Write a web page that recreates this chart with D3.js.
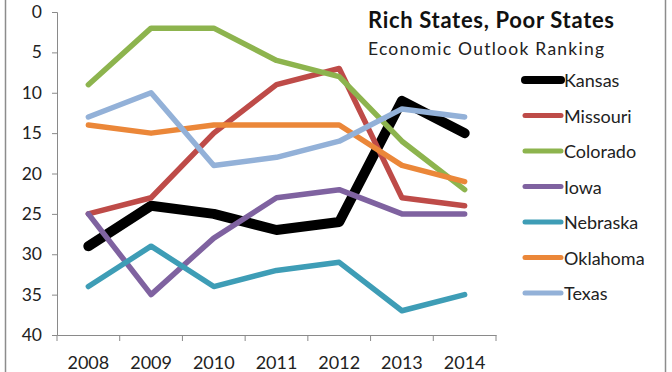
<!DOCTYPE html>
<html>
<head>
<meta charset="utf-8">
<script src="https://cdn.jsdelivr.net/npm/d3@7"></script>
<style>
  html, body { margin: 0; padding: 0; background: #fff; }
  svg { display: block; }
</style>
</head>
<body>
<svg id="chart" width="672" height="372"></svg>
<script>
// ---- data ----
var years = ["2008", "2009", "2010", "2011", "2012", "2013", "2014"];
var states = ["Kansas", "Missouri", "Colorado", "Iowa", "Nebraska", "Oklahoma", "Texas"];
var kansas   = [29, 24, 25, 27, 26, 11, 15];
var missouri = [25, 23, 15,  9,  7, 23, 24];
var colorado = [ 9,  2,  2,  6,  8, 16, 22];
var iowa     = [25, 35, 28, 23, 22, 25, 25];
var nebraska = [34, 29, 34, 32, 31, 37, 35];
var oklahoma = [14, 15, 14, 14, 14, 19, 21];
var texas    = [13, 10, 19, 18, 16, 12, 13];
var yTicks = [0, 5, 10, 15, 20, 25, 30, 35, 40];

var values = [kansas, missouri, colorado, iowa, nebraska, oklahoma, texas];
var colors = ["#000000", "#BE4B48", "#8DB44E", "#7F62A0", "#3E9DB6", "#EB8739", "#93B1D8"];
var widths = [10, 5.5, 5.5, 5.5, 5.5, 5.5, 5.5];

var font = "Lato, 'Liberation Sans', sans-serif";
var svg = d3.select("#chart");

// chart frame (only left/right edges show in the reference)
svg.append("line").attr("x1", 5.5).attr("x2", 5.5).attr("y1", 0).attr("y2", 372)
    .attr("stroke", "#8c8c8c").attr("stroke-width", 1.5);
svg.append("line").attr("x1", 665.5).attr("x2", 665.5).attr("y1", 0).attr("y2", 372)
    .attr("stroke", "#8c8c8c").attr("stroke-width", 1.5);

var plotLeft = 57, plotRight = 496, plotTop = 12, plotBottom = 335;

var x = d3.scaleBand().domain(years).range([plotLeft, plotRight]);
var y = d3.scaleLinear().domain([0, 40]).range([plotTop, plotBottom]);

// ---- axes ----
var yAxis = d3.axisLeft(y).tickValues(yTicks).tickSize(5).tickPadding(10);
var gy = svg.append("g").attr("transform", "translate(" + plotLeft + ",0)").call(yAxis);
gy.select(".domain").attr("stroke", "#8a8a8a");
gy.selectAll(".tick line").attr("stroke", "#8a8a8a");
gy.selectAll(".tick text").attr("font-family", font).attr("font-size", 17.5).attr("fill", "#222");

var xAxis = d3.axisBottom(x).tickSize(0).tickPadding(18);
var gx = svg.append("g").attr("transform", "translate(0," + plotBottom + ")").call(xAxis);
gx.select(".domain").attr("stroke", "#8a8a8a");
gx.selectAll(".tick text").attr("font-family", font).attr("font-size", 18).attr("fill", "#222")
    .attr("dy", "0.9em");
// tick marks sit on the category boundaries
gx.selectAll(".bound").data(d3.range(years.length + 1)).enter().append("line")
    .attr("class", "bound")
    .attr("x1", function(i) { return plotLeft + i * x.step(); })
    .attr("x2", function(i) { return plotLeft + i * x.step(); })
    .attr("y1", 0).attr("y2", 6)
    .attr("stroke", "#8a8a8a");

// ---- series lines ----
var line = d3.line()
    .x(function(d, i) { return x(years[i]) + x.bandwidth() / 2; })
    .y(function(d) { return y(d); });

svg.selectAll(".series").data(values).enter().append("path")
    .attr("class", "series")
    .attr("d", line)
    .attr("fill", "none")
    .attr("stroke", function(d, i) { return colors[i]; })
    .attr("stroke-width", function(d, i) { return widths[i]; })
    .attr("stroke-linecap", "round")
    .attr("stroke-linejoin", "round");

// ---- title ----
svg.append("text").attr("x", 368).attr("y", 28)
    .attr("font-family", font).attr("font-size", 22).attr("font-weight", "bold").attr("fill", "#111")
    .attr("textLength", 246).attr("lengthAdjust", "spacing")
    .text("Rich States, Poor States");
svg.append("text").attr("x", 368).attr("y", 55)
    .attr("font-family", font).attr("font-size", 17.5).attr("fill", "#222")
    .attr("textLength", 236).attr("lengthAdjust", "spacing")
    .text("Economic Outlook Ranking");

// ---- legend ----
var legend = svg.selectAll(".legend").data(states).enter().append("g")
    .attr("class", "legend")
    .attr("transform", function(d, i) { return "translate(523," + (80 + i * 35.5) + ")"; });
legend.append("line").attr("x1", 2).attr("x2", 38).attr("y1", 0).attr("y2", 0)
    .attr("stroke", function(d, i) { return colors[i]; })
    .attr("stroke-width", function(d, i) { return i === 0 ? 8 : 5; })
    .attr("stroke-linecap", "round");
legend.append("text").attr("x", 41).attr("y", 7)
    .attr("font-family", font).attr("font-size", 18).attr("fill", "#222")
    .text(function(d) { return d; });
</script>
</body>
</html>
